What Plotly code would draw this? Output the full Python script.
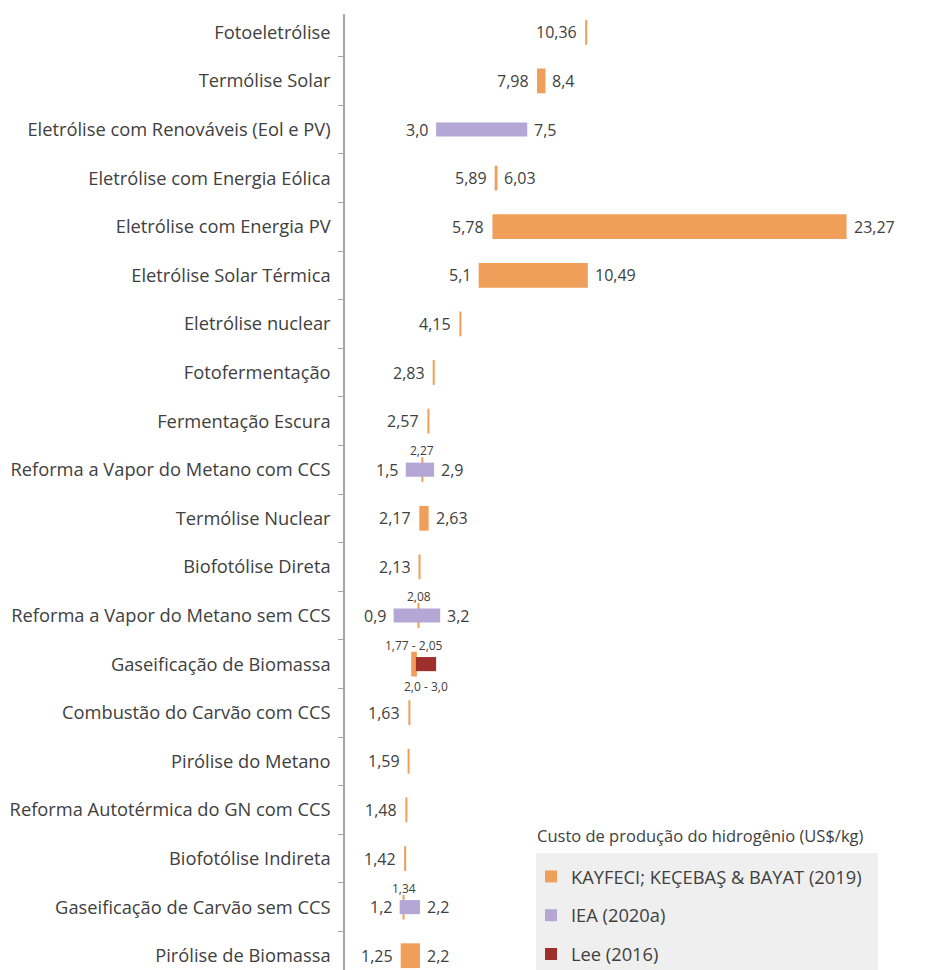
import plotly.graph_objects as go

# ---------------- data ----------------
categories = [
    "Fotoeletrólise", "Termólise Solar", "Eletrólise com Renováveis (Eol e PV)",
    "Eletrólise com Energia Eólica", "Eletrólise com Energia PV", "Eletrólise Solar Térmica",
    "Eletrólise nuclear", "Fotofermentação", "Fermentação Escura",
    "Reforma a Vapor do Metano com CCS", "Termólise Nuclear", "Biofotólise Direta",
    "Reforma a Vapor do Metano sem CCS", "Gaseificação de Biomassa",
    "Combustão do Carvão com CCS", "Pirólise do Metano",
    "Reforma Autotérmica do GN com CCS", "Biofotólise Indireta",
    "Gaseificação de Carvão sem CCS", "Pirólise de Biomassa",
]
kay_min = [10.36, 7.98, None, 5.89, 5.78, 5.1, 4.15, 2.83, 2.57, 2.27,
           2.17, 2.13, 2.08, 1.77, 1.63, 1.59, 1.48, 1.42, 1.34, 1.25]
kay_max = [None, 8.4, None, 6.03, 23.27, 10.49, None, None, None, None,
           2.63, None, None, 2.05, None, None, None, None, None, 2.2]
iea_min = [None, None, 3.0, None, None, None, None, None, None, 1.5,
           None, None, 0.9, None, None, None, None, None, 1.2, None]
iea_max = [None, None, 7.5, None, None, None, None, None, None, 2.9,
           None, None, 3.2, None, None, None, None, None, 2.2, None]
lee_min = [None, None, None, None, None, None, None, None, None, None,
           None, None, None, 2.0, None, None, None, None, None, None]
lee_max = [None, None, None, None, None, None, None, None, None, None,
           None, None, None, 3.0, None, None, None, None, None, None]

series_names = ["KAYFECI; KEÇEBAŞ & BAYAT (2019)", "IEA (2020a)", "Lee (2016)"]
legend_title = "Custo de produção do hidrogênio (US$/kg)"

# ---------------- style ----------------
C_KAY = "#EF9F59"
C_IEA = "#B4A7D6"
C_LEE = "#9E2F2B"
TXT = "#404040"
FONT = "Open Sans"
MIN_LEN = 0.1  # visible width of single-value marks

OFF = 8                    # page offset of the figure (body margin)
W, H = 928 - OFF, 970 - OFF
ML, MT = 345 - OFF, 14 - OFF
PW, PH = W - ML, H - MT
X0 = -1.5
PXU = 20.25
XR = [X0, X0 + PW / PXU]
CAT_PX = 48.6
YTOP = -0.5 + 6 / CAT_PX
YR = [YTOP + PH / CAT_PX, YTOP]


def fk(v):
    return f"{v:g}".replace(".", ",")


def f1(v):
    return f"{v:.1f}".replace(".", ",")


def ranged(mins, maxs):
    ys, base, length = [], [], []
    for c, a, b in zip(categories, mins, maxs):
        if a is None:
            continue
        hi = b if b is not None else a
        ys.append(c)
        base.append(a)
        length.append(max(hi - a, MIN_LEN))
    return ys, base, length


fig = go.Figure()

y, b, l = ranged(kay_min, kay_max)
fig.add_trace(go.Bar(y=y, x=l, base=b, orientation="h", width=0.51,
                     marker=dict(color=C_KAY, line=dict(width=0)),
                     name=series_names[0], legendgroup="a", legendrank=1))
y, b, l = ranged(iea_min, iea_max)
fig.add_trace(go.Bar(y=y, x=l, base=b, orientation="h", width=0.29,
                     marker=dict(color=C_IEA, line=dict(width=0)),
                     name=series_names[1], legendgroup="b", legendrank=2))
y, b, l = ranged(lee_min, lee_max)
fig.add_trace(go.Bar(y=y, x=l, base=b, orientation="h", width=0.29,
                     marker=dict(color=C_LEE, line=dict(width=0)),
                     name=series_names[2], legendgroup="c", legendrank=3))

ann = []
big = dict(family=FONT, size=16, color=TXT)
small = dict(family=FONT, size=12, color=TXT)
for i, c in enumerate(categories):
    others = iea_min[i] is not None or lee_min[i] is not None
    if kay_min[i] is not None:
        if not others:
            ann.append(dict(x=kay_min[i], y=c, text=fk(kay_min[i]), xanchor="right",
                            xshift=-6, showarrow=False, font=big))
            if kay_max[i] is not None:
                ann.append(dict(x=kay_max[i], y=c, text=fk(kay_max[i]), xanchor="left",
                                xshift=5, showarrow=False, font=big))
        else:
            if kay_max[i] is not None:
                t = f"{fk(kay_min[i])} - {fk(kay_max[i])}"
                xm = (kay_min[i] + kay_max[i]) / 2
            else:
                t = fk(kay_min[i])
                xm = kay_min[i] + MIN_LEN / 2
            ann.append(dict(x=xm, y=c, text=t, yshift=19, showarrow=False, font=small))
    if iea_min[i] is not None:
        ann.append(dict(x=iea_min[i], y=c, text=f1(iea_min[i]), xanchor="right",
                        xshift=-6, showarrow=False, font=big))
        ann.append(dict(x=iea_max[i], y=c, text=f1(iea_max[i]), xanchor="left",
                        xshift=5, showarrow=False, font=big))
    if lee_min[i] is not None:
        ann.append(dict(x=(lee_min[i] + lee_max[i]) / 2, y=c,
                        text=f"{f1(lee_min[i])} - {f1(lee_max[i])}",
                        yshift=-22, showarrow=False, font=small))


def px_x(p):  # page pixel -> paper x
    return (p - OFF - ML) / PW


def px_y(p):  # page pixel -> paper y
    return (H - (p - OFF)) / PH


ann.append(dict(xref="paper", yref="paper", x=px_x(535), y=px_y(836), text=legend_title,
                xanchor="left", yanchor="middle", showarrow=False,
                font=dict(family=FONT, size=16.5, color=TXT)))

fig.update_layout(
    width=W, height=H,
    margin=dict(l=ML, r=0, t=MT, b=0, autoexpand=False),
    paper_bgcolor="white", plot_bgcolor="white",
    barmode="overlay",
    font=dict(family=FONT, color=TXT),
    showlegend=True,
    legend=dict(x=px_x(531), y=px_y(858), xanchor="left", yanchor="top",
                bgcolor="rgba(0,0,0,0)", traceorder="grouped", tracegroupgap=12,
                font=dict(family=FONT, size=18.3, color=TXT)),
    annotations=ann,
    shapes=[dict(type="rect", xref="paper", yref="paper", x0=px_x(536), x1=px_x(878),
                 y0=-0.05, y1=px_y(853), fillcolor="#EFEFEF", line=dict(width=0),
                 layer="below")],
    xaxis=dict(range=XR, showgrid=False, zeroline=False, showline=False,
               showticklabels=False, ticks="", fixedrange=True),
    yaxis=dict(type="category", categoryorder="array", categoryarray=categories,
               range=YR, showgrid=False, zeroline=False, showline=True,
               linecolor="#A6A6A6", linewidth=1.5, ticks="outside", ticklen=5,
               tickcolor="#A6A6A6", tickwidth=1, tickson="boundaries",
               ticklabelstandoff=9, automargin=False,
               tickfont=dict(family=FONT, size=18.3, color=TXT)),
)

fig.write_html("out.html")
